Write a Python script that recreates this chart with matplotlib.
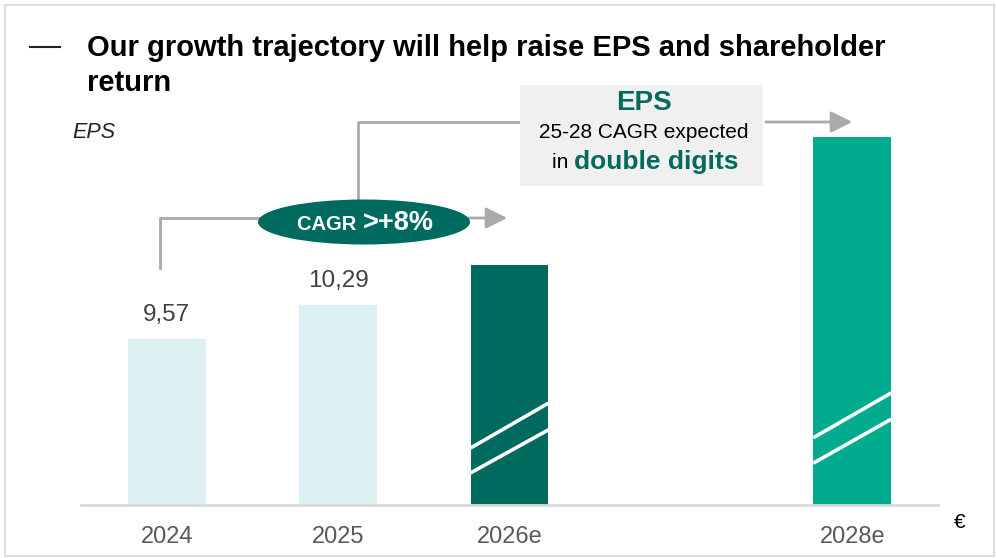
import matplotlib
matplotlib.use("Agg")
import matplotlib.pyplot as plt
from matplotlib.patches import Ellipse, Rectangle, FancyArrowPatch
import matplotlib.transforms as mtransforms

plt.rcParams['font.family'] = ['Liberation Sans', 'DejaVu Sans']

# ---- data ----
categories = ["2024", "2025", "2026e", "2028e"]
positions = [0, 1, 2, 4]
eps_values = [9.57, 10.29, 11.13, 13.85]   # 2026e / 2028e
value_labels = ["9,57", "10,29", "", ""]
bar_colors = ["#DCEFF1", "#DCEFF1", "#006A5E", "#00AB8E"]
has_break = [False, False, True, True]

title_line1 = "Our growth trajectory will help raise EPS and shareholder"
title_line2 = "return"
ylabel_text = "EPS"
unit_text = "€"
cagr_text_small = "CAGR "
cagr_text_big = ">+8%"
box_title = "EPS"
box_line1 = "25-28 CAGR expected"
box_line2_a = "in "
box_line2_b = "double digits"

DARK = "#006A5E"
GREY_LINE = "#AAAAAA"

W, H = 996, 558
fig = plt.figure(figsize=(W / 100, H / 100), dpi=100)

# main axes
ax_bottom_px, ax_top_px = 505, 60
ax_left_px, ax_right_px = 81, 938
ax = fig.add_axes([ax_left_px / W, 1 - ax_bottom_px / H,
                   (ax_right_px - ax_left_px) / W, (ax_bottom_px - ax_top_px) / H])
ybase = 6.05
ytop = ybase + (ax_bottom_px - ax_top_px) / 47.2
ax.set_xlim(-0.5, 4.5)
ax.set_ylim(ybase, ytop)

bar_w = 0.455
for p, v, c in zip(positions, eps_values, bar_colors):
    ax.bar(p, v - ybase, bottom=ybase, width=bar_w, color=c, zorder=2)

for p, v, lab in zip(positions, eps_values, value_labels):
    if lab:
        ax.text(p, v + 0.27, lab, ha="center", va="bottom", fontsize=17.5,
                color="#404040")

# break marks (white diagonals) in axes-fraction y
trans = mtransforms.blended_transform_factory(ax.transData, ax.transAxes)
break_y = {2: [(0.128, 0.229), (0.072, 0.169)], 4: [(0.151, 0.252), (0.094, 0.193)]}
for p, b in zip(positions, has_break):
    if b:
        for y0, y1 in break_y[p]:
            ax.plot([p - bar_w / 2, p + bar_w / 2], [y0, y1], color="white",
                    lw=2.6, transform=trans, zorder=3, solid_capstyle="butt")

for s in ["top", "right", "left"]:
    ax.spines[s].set_visible(False)
ax.spines["bottom"].set_color("#D9D9D9")
ax.spines["bottom"].set_linewidth(2)
ax.set_yticks([])
ax.set_xticks(positions)
ax.set_xticklabels(categories, fontsize=17, color="#595959")
ax.tick_params(axis="x", length=0, pad=15)

# overlay axes in pixel coords for annotations
ov = fig.add_axes([0, 0, 1, 1], facecolor="none")
ov.set_xlim(0, W)
ov.set_ylim(H, 0)
ov.axis("off")

# border
ov.add_patch(Rectangle((5, 5), 989, 551, fill=False, edgecolor="#DDDDDD", lw=1.5))

# title
ov.plot([30, 60], [47, 47], color="#222222", lw=1.5)
ov.text(87, 48, title_line1, ha="left", va="center", fontsize=21, fontweight="bold",
        color="black")
ov.text(87, 83, title_line2, ha="left", va="center", fontsize=21, fontweight="bold",
        color="black")
ov.text(72, 133, ylabel_text, ha="left", va="center", fontsize=15.5,
        style="italic", color="#222222")
ov.text(960, 522, unit_text, ha="center", va="center", fontsize=15, color="black")

# connector 1: 2024 -> 2026e
ov.plot([160, 160, 265], [268, 218, 218], color=GREY_LINE, lw=2, zorder=1,
        solid_joinstyle="miter")
ov.add_patch(FancyArrowPatch((465, 218), (510, 218), arrowstyle="-|>,head_length=10,head_width=5",
                             color=GREY_LINE, lw=2, mutation_scale=1.3, zorder=1))

# connector 2: ellipse -> 2028e
ov.plot([358, 358, 520], [200, 122, 122], color=GREY_LINE, lw=2, zorder=1)
ov.add_patch(FancyArrowPatch((763, 122), (855, 122), arrowstyle="-|>,head_length=10,head_width=5",
                             color=GREY_LINE, lw=2, mutation_scale=1.3, zorder=1))

# ellipse
ov.add_patch(Ellipse((364, 222), 212, 45, facecolor=DARK, edgecolor="none", zorder=3))
t1 = ov.text(297, 225, cagr_text_small, ha="left", va="center", fontsize=14.5,
             fontweight="bold", color="white", zorder=4)
fig.canvas.draw()
bb = t1.get_window_extent()
ov.annotate(cagr_text_big, xy=(bb.x1 + 1, H - 223), xycoords="figure pixels",
            ha="left", va="center", fontsize=19.5, fontweight="bold", color="white",
            zorder=4)

# info box
ov.add_patch(Rectangle((520, 85), 243, 101, facecolor="#F0F0F0", edgecolor="none", zorder=2))
ov.text(644, 103, box_title, ha="center", va="center", fontsize=20, fontweight="bold",
        color=DARK, zorder=3)
ov.text(644, 132, box_line1, ha="center", va="center", fontsize=15, color="black",
        zorder=3)
t2 = ov.text(552, 163, box_line2_a, ha="left", va="center", fontsize=15, color="black",
             zorder=3)
fig.canvas.draw()
bb2 = t2.get_window_extent()
ov.annotate(box_line2_b, xy=(bb2.x1, H - 162), xycoords="figure pixels",
            ha="left", va="center", fontsize=19, fontweight="bold", color=DARK, zorder=3)

fig.savefig("out.png", dpi=100)
